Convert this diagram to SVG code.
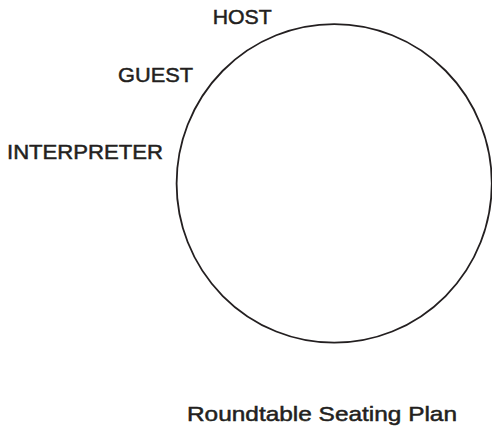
<svg xmlns="http://www.w3.org/2000/svg" width="492" height="428" viewBox="0 0 492 428">
<style>
.lbl{font-family:"Liberation Sans","Noto Sans",Arial,sans-serif;font-size:21px;fill:#231f20;stroke:#231f20;stroke-width:0.5;}
.table{fill:none;stroke:#231f20;stroke-width:1.8;}
</style>
<rect width="492" height="428" fill="#ffffff"/>
<g id="table">
<ellipse class="table" cx="334.2" cy="183.4" rx="157.6" ry="159.3"/>
</g>
<g id="connectors"></g>
<g id="host"><text class="lbl" x="212.7" y="24" textLength="59" lengthAdjust="spacingAndGlyphs">HOST</text></g>
<g id="guest"><text class="lbl" x="118" y="82.3" textLength="75" lengthAdjust="spacingAndGlyphs">GUEST</text></g>
<g id="interpreter"><text class="lbl" x="7" y="159.3" textLength="156" lengthAdjust="spacingAndGlyphs">INTERPRETER</text></g>
<g id="title"><text class="lbl" x="187" y="420.7" textLength="270" lengthAdjust="spacingAndGlyphs">Roundtable Seating Plan</text></g>
</svg>
